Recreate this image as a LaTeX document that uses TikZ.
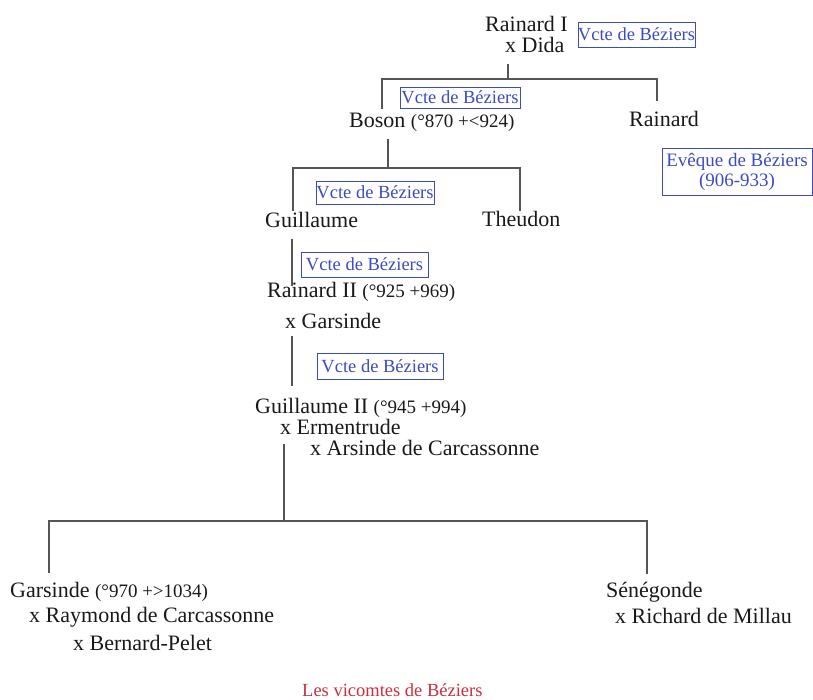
\documentclass[tikz,border=0pt]{standalone}
\usepackage{fontspec}
\setmainfont{Liberation Serif}
\usepackage{tikz}
\usetikzlibrary{positioning}

\definecolor{inkblack}{RGB}{25,25,25}
\definecolor{linegray}{RGB}{85,85,85}
\definecolor{vcteblue}{RGB}{60,75,195}
\definecolor{captionred}{RGB}{205,45,65}
\newcommand{\namefont}{\fontsize{22}{25}\selectfont}
\newcommand{\datefont}{\fontsize{19}{22}\selectfont}
\newcommand{\boxfont}{\fontsize{18.5}{21}\selectfont}

\begin{document}
\begin{tikzpicture}[x=1pt,y=-1pt,
 person/.style={anchor=base west,inner sep=0pt,font=\namefont,text=inkblack},
 title box/.style={draw=vcteblue,line width=0.9pt,text=vcteblue,font=\boxfont,
   inner sep=0pt,align=center},
 tree line/.style={draw=linegray,line width=1.4pt}]
  \useasboundingbox (0,0) rectangle (813,700);

  % people
  \node[person] (rainardI) at (485,32) {Rainard I};
  \node[person] (dida) at (505,53) {x Dida};
  \node[person] (boson) at (349,128) {Boson {\datefont (°870 +<924)}};
  \node[person] (rainard) at (629,127) {Rainard};
  \node[person] (guillaume) at (265,228) {Guillaume};
  \node[person] (theudon) at (482,227) {Theudon};
  \node[person] (rainardII) at (267,298) {Rainard II {\datefont (°925 +969)}};
  \node[person] (garsindeA) at (285,328) {x Garsinde};
  \node[person] (guillaumeII) at (255,413) {Guillaume II {\datefont (°945 +994)}};
  \node[person] (ermentrude) at (280,434) {x Ermentrude};
  \node[person] (arsinde) at (310,455) {x Arsinde de Carcassonne};
  \node[person] (garsindeB) at (10,597) {Garsinde {\datefont (°970 +>1034)}};
  \node[person] (raymond) at (29,622) {x Raymond de Carcassonne};
  \node[person] (bernard) at (73,650) {x Bernard-Pelet};
  \node[person] (senegonde) at (606,597) {Sénégonde};
  \node[person] (richard) at (615,623) {x Richard de Millau};

  % titles
  \node[title box,minimum width=117,minimum height=25] (vcteA) at (636.5,34.5) {Vcte de Béziers};
  \node[title box,minimum width=120,minimum height=21] (vcteB) at (460,97.5) {Vcte de Béziers};
  \node[title box,minimum width=118,minimum height=23] (vcteC) at (375,192.5) {Vcte de Béziers};
  \node[title box,minimum width=127,minimum height=25] (vcteD) at (364.5,264.5) {Vcte de Béziers};
  \node[title box,minimum width=126,minimum height=26] (vcteE) at (380,366.5) {Vcte de Béziers};
  \node[title box,font=\datefont,minimum width=150,minimum height=47] (eveque) at (737,171.5)
    {Evêque de Béziers\\[-2pt](906-933)};

  % tree joints
  \coordinate (t0) at (508,65);   \coordinate (t1) at (508,79);
  \coordinate (tL) at (382,79);   \coordinate (tL2) at (382,108);
  \coordinate (tR) at (657,79);   \coordinate (tR2) at (657,100);
  \coordinate (b0) at (388,140);  \coordinate (b1) at (388,168);
  \coordinate (bL) at (293,168);  \coordinate (bL2) at (293,210);
  \coordinate (bR) at (520,168);  \coordinate (bR2) at (520,210);
  \coordinate (g0) at (292,240);  \coordinate (g1) at (292,285);
  \coordinate (r0) at (292,337);  \coordinate (r1) at (292,385);
  \coordinate (s0) at (284,445);  \coordinate (s1) at (284,521);
  \coordinate (sL) at (49,521);   \coordinate (sL2) at (49,572);
  \coordinate (sR) at (647,521);  \coordinate (sR2) at (647,573);

  \foreach \s/\t in {t0/t1, tL/tR, tL/tL2, tR/tR2, b0/b1, bL/bR, bL/bL2, bR/bR2,
    g0/g1, r0/r1, s0/s1, sL/sR, sL/sL2, sR/sR2} {
   \path[tree line] (\s) edge[tree line,line cap=rect] (\t);}

  \node[anchor=base west,inner sep=0pt,font=\fontsize{18.5}{21}\selectfont,text=captionred]
    (caption) at (302,696) {Les vicomtes de Béziers};
\end{tikzpicture}
\end{document}
